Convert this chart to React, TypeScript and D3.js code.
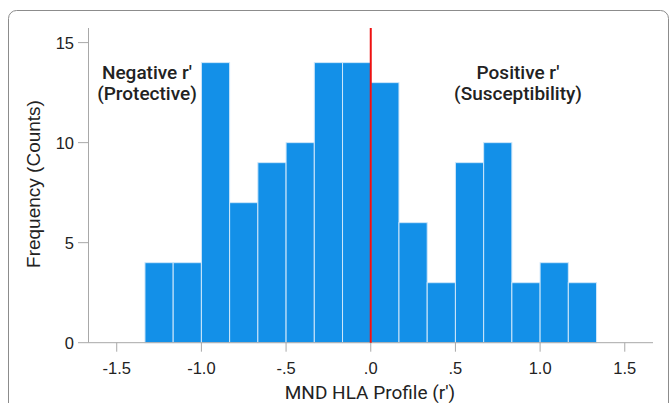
import React from "react";
import * as d3 from "d3";

const binStarts = [-8, -7, -6, -5, -4, -3, -2, -1, 0, 1, 2, 3, 4, 5, 6, 7].map((k) => k / 6);
const binWidth = 1 / 6;
const counts = [4, 4, 14, 7, 9, 10, 14, 14, 13, 6, 3, 9, 10, 3, 4, 3];
const xTicks = [-1.5, -1.0, -0.5, 0, 0.5, 1.0, 1.5];
const xTickLabels = ["-1.5", "-1.0", "-.5", ".0", ".5", "1.0", "1.5"];
const yTicks = [0, 5, 10, 15];

const W = 670;
const H = 403;

export default function App() {
  const x = d3.scaleLinear().domain([-1.6667, 1.6667]).range([88.5, 653]);
  const y = d3.scaleLinear().domain([0, 15.73]).range([342.7, 28]);
  const y0 = y(0);
  const axisColor = "#a8a8a8";
  const tickFont = "Liberation Sans, Arial, sans-serif";
  return (
    <div style={{ position: "absolute", left: 0, top: 0 }}>
      <svg width={W} height={H} style={{ display: "block" }}>
        <rect x={8.5} y={10.5} width={660} height={430} rx={8} fill="none" stroke="#8c8c8c" strokeWidth={1} />
        {counts.map((c, i) => (
          <rect
            key={i}
            x={x(binStarts[i])}
            y={y(c)}
            width={x(binStarts[i] + binWidth) - x(binStarts[i])}
            height={y0 - y(c)}
            fill="#1390e8"
            stroke="#cfe7fa"
            strokeWidth={1}
          />
        ))}
        {/* y axis */}
        <line x1={88.5} x2={88.5} y1={28} y2={y0} stroke={axisColor} />
        {yTicks.map((t) => (
          <g key={t}>
            <line x1={78} x2={88.5} y1={y(t)} y2={y(t)} stroke={axisColor} />
            <text x={74} y={y(t)} dy="0.36em" textAnchor="end" fontFamily={tickFont} fontSize={16.5} fill="#222">
              {t}
            </text>
          </g>
        ))}
        {/* x axis */}
        <line x1={88.5} x2={653} y1={y0} y2={y0} stroke={axisColor} />
        {xTicks.map((t, i) => (
          <g key={t}>
            <line x1={x(t)} x2={x(t)} y1={y0} y2={y0 + 9} stroke={axisColor} />
            <text x={x(t)} y={374} textAnchor="middle" fontFamily={tickFont} fontSize={16.5} fill="#222">
              {xTickLabels[i]}
            </text>
          </g>
        ))}
        {/* zero line */}
        <line x1={x(0)} x2={x(0)} y1={28} y2={y0} stroke="#ee1111" strokeWidth={2} />
        {/* annotations */}
        <text x={147} y={79} textAnchor="middle" fontFamily="Roboto, sans-serif" fontWeight={500} fontSize={19} fill="#222">
          Negative r'
        </text>
        <text x={147} y={100} textAnchor="middle" fontFamily="Roboto, sans-serif" fontWeight={500} fontSize={19} fill="#222">
          (Protective)
        </text>
        <text x={518} y={79} textAnchor="middle" fontFamily="Roboto, sans-serif" fontWeight={500} fontSize={19} fill="#222">
          Positive r'
        </text>
        <text x={518} y={100} textAnchor="middle" fontFamily="Roboto, sans-serif" fontWeight={500} fontSize={19} fill="#222">
          (Susceptibility)
        </text>
        {/* axis titles */}
        <text x={370} y={399} textAnchor="middle" fontFamily="Roboto, sans-serif" fontSize={19} fill="#222">
          MND HLA Profile (r')
        </text>
        <text
          transform={`translate(39.5,184) rotate(-90)`}
          textAnchor="middle"
          fontFamily={tickFont}
          fontSize={19}
          fill="#222"
        >
          Frequency (Counts)
        </text>
      </svg>
    </div>
  );
}
